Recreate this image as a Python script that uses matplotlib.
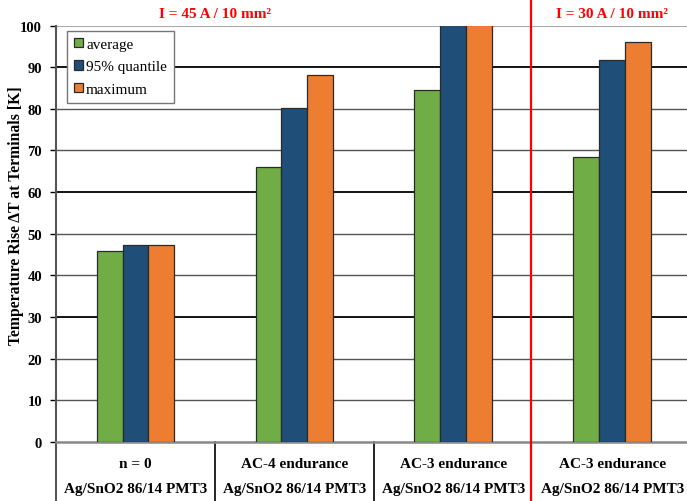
"""
Temperature rise at terminals, grouped bars
"""
import matplotlib
matplotlib.use('Agg')
import matplotlib.pyplot as plt
import matplotlib.transforms as mtransforms
import numpy as np

plt.rcParams['font.family'] = ['Liberation Serif', 'DejaVu Serif']

# data
groups_top = ['n = 0', 'AC-4 endurance', 'AC-3 endurance', 'AC-3 endurance']
groups_bottom = ['Ag/SnO2 86/14 PMT3'] * 4
series = ['average', '95% quantile', 'maximum']
average = [45.8, 66.0, 84.5, 68.4]
quantile95 = [47.2, 80.3, 101.0, 91.8]
maximum = [47.4, 88.2, 104.0, 96.0]
colors = ['#70ad47', '#1f4e79', '#ed7d31']
currents = ['I = 45 A / 10 mm²', 'I = 30 A / 10 mm²']

fig = plt.figure(figsize=(6.87, 5.02), dpi=100)
ax = fig.add_axes([56 / 687, 59 / 502, 1 - 56 / 687, 416.5 / 502])

x = np.arange(len(groups_top))
w = 0.163
for i, (vals, c, name) in enumerate(zip([average, quantile95, maximum], colors, series)):
    ax.bar(x + (i - 1) * w, vals, w, color=c, edgecolor='#2a2a2a', linewidth=0.9,
           label=name, zorder=3)

ax.set_xlim(-0.5, 3.47)
ax.set_ylim(0, 100)
ax.set_yticks(range(0, 101, 10))
ax.set_yticklabels([str(v) for v in range(0, 101, 10)], fontweight='bold', fontsize=10.5)
ax.tick_params(axis='y', direction='out', length=4, width=1, pad=6)
ax.set_xticks([])

# horizontal grid lines (scan looks uneven: some darker than others)
for v in range(10, 101, 10):
    if v == 100:
        ax.axhline(v, color='#aaaaaa', lw=1.5, zorder=1)
    elif v in (30, 60, 90):
        ax.axhline(v, color='black', lw=1.3, zorder=1)
    else:
        ax.axhline(v, color='#555555', lw=1.0, zorder=1)

for s in ['top', 'right']:
    ax.spines[s].set_visible(False)
ax.spines['left'].set_color('#555555')
ax.spines['left'].set_linewidth(1.5)
ax.spines['bottom'].set_color('#888888')
ax.spines['bottom'].set_linewidth(1.8)

ax.set_ylabel('Temperature Rise ΔT at Terminals [K]', fontweight='bold', fontsize=11.3)
ax.yaxis.set_label_coords(-0.051, 0.545)

leg = ax.legend(loc='upper left', bbox_to_anchor=(0.0174, 0.987), borderaxespad=0,
                fancybox=False, edgecolor='#777777', framealpha=1, fontsize=11,
                handlelength=0.6, handleheight=0.6, handletextpad=0.2,
                labelspacing=0.6, borderpad=0.45)
leg.get_frame().set_linewidth(1.0)

# table under the axis
tr = mtransforms.blended_transform_factory(ax.transData, fig.transFigure)
for i in range(len(groups_top)):
    ax.text(x[i], 1 - 465 / 502, groups_top[i], transform=tr, ha='center', va='center',
            fontweight='bold', fontsize=11)
    ax.text(x[i], 1 - 490 / 502, groups_bottom[i], transform=tr, ha='center',
            va='center', fontweight='bold', fontsize=11)
for sep in [0.5, 1.5]:
    ax.plot([sep, sep], [0, 1 - 443 / 502], transform=tr, color='black', lw=1.2,
            clip_on=False)
ax.plot([-0.5, -0.5], [0, 1 - 443 / 502], transform=tr, color='#555555', lw=1.5,
        clip_on=False)

# red divider between current levels
ax.plot([2.49, 2.49], [0, 1], transform=tr, color='red', lw=1.6, clip_on=False, zorder=5)
ax.text(0.5, 1 - 15 / 502, currents[0], transform=tr, ha='center', va='center',
        color='red', fontweight='bold', fontsize=11)
ax.text(3.0, 1 - 15 / 502, currents[1], transform=tr, ha='center', va='center',
        color='red', fontweight='bold', fontsize=11)

fig.savefig('out.png', dpi=100)
